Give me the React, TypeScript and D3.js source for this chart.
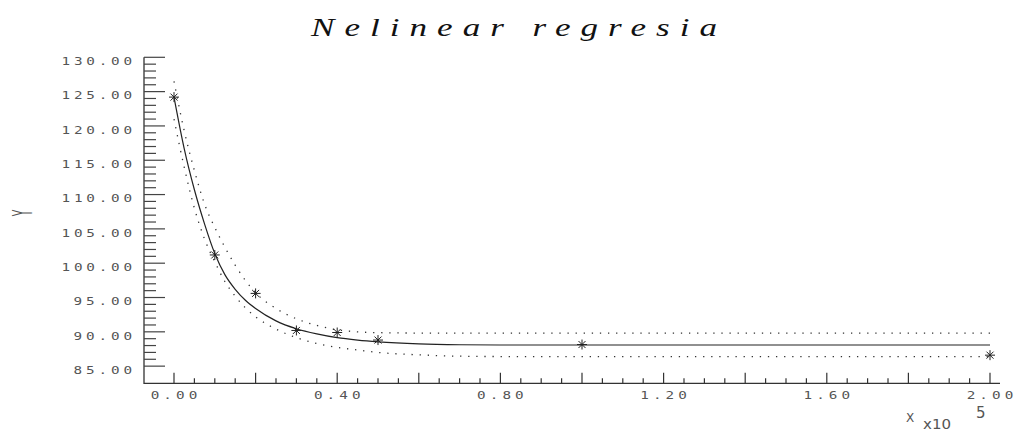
import React, { useEffect, useRef } from "react";
import * as d3 from "d3";

// measured points (x in units of 10^5)
const pointX = [0, 0.1, 0.2, 0.3, 0.4, 0.5, 1.0, 2.0];
const pointY = [124.2, 101.2, 95.6, 90.2, 89.9, 88.8, 88.15, 86.6];

// fitted curve and its confidence band
const curveX = [0, 0.025, 0.05, 0.075, 0.1, 0.125, 0.15, 0.175, 0.2, 0.25, 0.3, 0.35, 0.4, 0.45, 0.5, 0.6, 0.7, 0.8, 1.0, 1.5, 2.0];
const fitY = [124.2, 116.7, 110.7, 105.7, 101.4, 98.3, 96.2, 94.6, 93.4, 91.6, 90.45, 89.7, 89.15, 88.8, 88.55, 88.25, 88.12, 88.08, 88.08, 88.08, 88.08];
const upperY = [126.5, 119.3, 113.5, 108.6, 105.2, 102.3, 99.7, 97.5, 95.7, 93.4, 91.9, 90.93, 90.3, 90.0, 89.88, 89.82, 89.8, 89.8, 89.8, 89.8, 89.8];
const lowerY = [121.0, 114.0, 108.0, 103.5, 100.2, 97.3, 95.2, 93.5, 92.2, 90.4, 89.15, 88.3, 87.73, 87.35, 87.0, 86.65, 86.45, 86.4, 86.4, 86.4, 86.4];

const xTickValues = [0, 0.4, 0.8, 1.2, 1.6, 2.0];
const xTickLabels = ["0.00", "0.40", "0.80", "1.20", "1.60", "2.00"];
const yTickValues = [85, 90, 95, 100, 105, 110, 115, 120, 125, 130];
const yTickLabels = ["85.00", "90.00", "95.00", "100.00", "105.00", "110.00", "115.00", "120.00", "125.00", "130.00"];

const title = "Nelinear regresia";

export default function App() {
    const ref = useRef<SVGSVGElement>(null);

    useEffect(() => {
        const svg = d3.select(ref.current);
        svg.selectAll("*").remove();

        const x = d3.scaleLinear().domain([0, 2]).range([174, 990]);
        const y = d3.scaleLinear().domain([82.5, 130]).range([383.3, 57.3]);
        const left = 144;
        const right = 1000;
        const bottom = y(82.5);
        const mono = "'DejaVu Sans Mono', monospace";
        const sx = 1.3; // horizontal stretch of the tick label glyphs
        const labelWidth = (s: string) => (s.length * 11.9 - 1) / sx;

        // title, stretched like the original plotter font
        const tsx = 1.35;
        svg.append("text")
            .attr("transform", `translate(514,36) scale(${tsx},1)`)
            .attr("text-anchor", "middle")
            .attr("font-family", "'Liberation Serif', serif")
            .attr("font-style", "italic")
            .attr("font-size", 26)
            .attr("textLength", 406 / tsx)
            .attr("lengthAdjust", "spacing")
            .attr("fill", "#111")
            .text(title);

        // axes lines
        svg.append("path")
            .attr("d", `M${left},${y(130)}V${bottom}H${right}`)
            .attr("fill", "none").attr("stroke", "#333").attr("stroke-width", 1.3);

        // y ticks (inward)
        const yMinor = d3.range(85, 130.5, 1);
        svg.append("g").selectAll("line").data(yMinor).enter().append("line")
            .attr("x1", left).attr("x2", d => (d % 5 === 0 ? left + 21 : left + 12))
            .attr("y1", d => y(d)).attr("y2", d => y(d))
            .attr("stroke", "#444").attr("stroke-width", 1.2);

        svg.append("g").selectAll("text").data(yTickValues).enter().append("text")
            .attr("transform", d => `translate(132,${y(d) + 7.8}) scale(${sx},1)`)
            .attr("text-anchor", "end")
            .attr("font-family", mono).attr("font-size", 11)
            .attr("fill", "#555")
            .attr("textLength", (d, i) => labelWidth(yTickLabels[i]))
            .attr("lengthAdjust", "spacing")
            .text((d, i) => yTickLabels[i]);

        // x ticks
        const xMinor = x.ticks(40);
        const xMajor = x.ticks(10).map(v => +v.toFixed(2));
        svg.append("g").selectAll("line").data(xMinor).enter().append("line")
            .attr("x1", d => x(d)).attr("x2", d => x(d))
            .attr("y1", bottom)
            .attr("y2", d => (xMajor.includes(+d.toFixed(2)) ? bottom - 10.6 : bottom - 5))
            .attr("stroke", "#333").attr("stroke-width", 1.2);

        svg.append("g").selectAll("text").data(xTickValues).enter().append("text")
            .attr("transform", d => `translate(${x(d)},399) scale(${sx},1)`)
            .attr("text-anchor", "middle")
            .attr("font-family", mono).attr("font-size", 11)
            .attr("fill", "#555")
            .attr("textLength", (d, i) => labelWidth(xTickLabels[i]))
            .attr("lengthAdjust", "spacing")
            .text((d, i) => xTickLabels[i]);

        // axis titles
        svg.append("text")
            .attr("transform", "translate(32,213) rotate(-90) scale(0.9,2.2)")
            .attr("text-anchor", "middle")
            .attr("font-family", "'DejaVu Sans', sans-serif").attr("font-size", 12)
            .attr("fill", "#555")
            .text("Y");
        svg.append("text")
            .attr("x", 906).attr("y", 422)
            .attr("font-family", "'DejaVu Sans', sans-serif").attr("font-size", 12)
            .attr("fill", "#555")
            .text("X");
        svg.append("text")
            .attr("x", 923).attr("y", 429)
            .attr("font-family", "'DejaVu Sans', sans-serif").attr("font-size", 14)
            .attr("textLength", 28).attr("lengthAdjust", "spacingAndGlyphs")
            .attr("fill", "#555")
            .text("x10");
        svg.append("text")
            .attr("x", 976).attr("y", 418)
            .attr("font-family", "'DejaVu Sans', sans-serif").attr("font-size", 15)
            .attr("fill", "#555")
            .text("5");

        // curves
        const line = d3.line<number>()
            .x((d, i) => x(curveX[i]))
            .y(d => y(d))
            .curve(d3.curveMonotoneX);

        svg.append("path").attr("d", line(fitY))
            .attr("fill", "none").attr("stroke", "#222").attr("stroke-width", 1.2);
        [upperY, lowerY].forEach(band => {
            svg.append("path").attr("d", line(band))
                .attr("fill", "none").attr("stroke", "#333").attr("stroke-width", 1.3)
                .attr("stroke-dasharray", "1.3 6.8");
        });

        // asterisk markers
        const r = 5;
        const arms = [[r, 0], [0, r], [r * 0.7, r * 0.7], [r * 0.7, -r * 0.7]];
        const pts = svg.append("g").selectAll("g").data(pointX).enter().append("g")
            .attr("transform", (d, i) => `translate(${x(d)},${y(pointY[i])})`);
        arms.forEach(([dx, dy]) => {
            pts.append("line")
                .attr("x1", -dx).attr("y1", -dy).attr("x2", dx).attr("y2", dy)
                .attr("stroke", "#222").attr("stroke-width", 1);
        });
    }, []);

    return (
        <svg ref={ref} width={1016} height={433}
            style={{ position: "absolute", left: 0, top: 0, background: "#fff" }} />
    );
}
